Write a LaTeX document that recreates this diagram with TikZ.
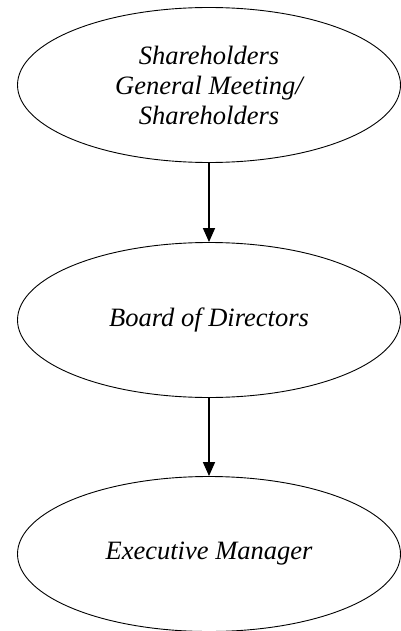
\documentclass[tikz,border=0pt]{standalone}
\usepackage{fontspec}
\setmainfont{Liberation Serif}
\usetikzlibrary{shapes.geometric,arrows.meta}
\begin{document}
\begin{tikzpicture}[x=1pt, y=-1pt,
    levelbox/.style={ellipse, draw, line width=0.9pt, minimum width=383pt, minimum height=155pt,
      inner sep=0pt, align=center, font=\fontsize{26.5}{30}\selectfont\itshape},
    flow/.style={-{Triangle[width=12pt,length=14pt]}, line width=1.5pt}]
            \useasboundingbox (0, 0) rectangle (401, 631);
            \node (meeting) at (209, 85) [levelbox] {Shareholders\\General Meeting/\\Shareholders};
            \node (board) at (209, 320) [levelbox] {Board of Directors};
            \node (manager) at (209, 554) [levelbox] {Executive Manager};
            \draw[flow] (meeting) -- (board);
            \draw[flow] (board) -- (manager);
        \end{tikzpicture}
\end{document}
